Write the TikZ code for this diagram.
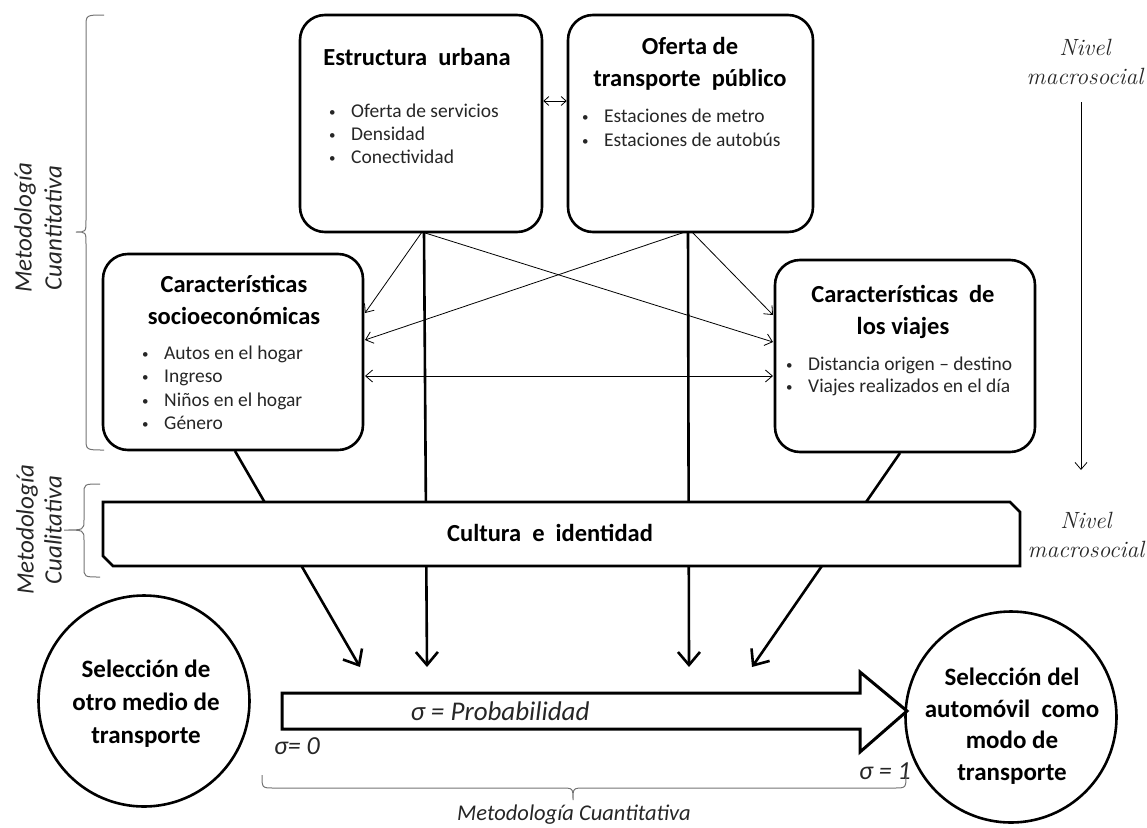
\documentclass[tikz,border=0pt]{standalone}
\usepackage{fontspec}
\newfontfamily\cb{Carlito}
\usetikzlibrary{arrows.meta}
\newcommand{\bul}{\makebox[22pt][l]{\raisebox{1pt}{\fontsize{13}{13}\selectfont •}}}
\begin{document}
\begin{tikzpicture}[x=1pt,y=-1pt,
  box/.style={draw, line width=2.6pt, rounded corners=25pt, fill=white, inner sep=0pt},
  ttl/.style={font=\cb\bfseries\fontsize{24.5}{32}\selectfont, align=center, inner sep=0pt},
  ctl/.style={font=\cb\bfseries\fontsize{25}{33}\selectfont, align=center, inner sep=0pt},
  li/.style={font=\cb\fontsize{19.5}{23}\selectfont, anchor=west, inner sep=0pt, text=black!85},
  thin/.style={line width=0.8pt, -{Straight Barb[length=7pt,width=12pt]}},
  thinb/.style={line width=0.8pt, {Straight Barb[length=7pt,width=12pt]}-{Straight Barb[length=7pt,width=12pt]}},
  thick/.style={line width=2.6pt, -{Straight Barb[length=13pt,width=22pt]}},
  brc/.style={draw=black!55, line width=1pt},
  itl/.style={font=\cb\itshape\fontsize{26}{28}\selectfont, inner sep=0pt, text=black!85},
  niv/.style={font=\itshape\fontsize{23.5}{29}\selectfont, align=center, inner sep=0pt, text=black!85}
]
\useasboundingbox (0,0) rectangle (1147,827);

% connector points
\coordinate (euA) at (422,232);
\coordinate (euB) at (424,232);
\coordinate (otA) at (685,232);
\coordinate (otB) at (692,232);
\coordinate (otC) at (688,232);
\coordinate (csR1) at (365,313);
\coordinate (csR2) at (365,340);
\coordinate (csR3) at (365,376);
\coordinate (cvL1) at (773,315);
\coordinate (cvL2) at (773,342);
\coordinate (cvL3) at (773,376);
\coordinate (csB) at (235,451);
\coordinate (cvB) at (900,453);
\coordinate (t1) at (360,667);
\coordinate (t2) at (427,667);
\coordinate (t3) at (689,667);
\coordinate (t4) at (752,667);

% thick arrows (drawn behind the culture box)
\draw[thick] (csB) -- (t1);
\draw[thick] (euB) -- (t2);
\draw[thick] (otC) -- (t3);
\draw[thick] (cvB) -- (t4);

% thin arrows
\draw[thin] (euA) -- (csR1);
\draw[thin] (euA) -- (cvL2);
\draw[thin] (otA) -- (csR2);
\draw[thin] (otB) -- (cvL1);
\draw[thinb] (csR3) -- (cvL3);

% top boxes
\node[box, minimum width=242pt, minimum height=217pt] (eu) at (421,123.5) {};
\node[box, minimum width=245pt, minimum height=217pt] (ot) at (690.5,123.5) {};
\draw[line width=0.8pt, {Straight Barb[length=5pt,width=9pt]}-{Straight Barb[length=5pt,width=9pt]}] (eu.east |- 0,101) -- (ot.west |- 0,101);

\node[ttl] (euT) at (417,57) {Estructura\ \ urbana};
\foreach \t [count=\i] in {Oferta de servicios, Densidad, Conectividad}
  \node[li, name=euL\i] at (329,113+23*\i-23) {\strut\bul\t};

\node[ttl] (otT) at (690,64) {Oferta de\\transporte\ \ público};
\foreach \t [count=\i] in {Estaciones de metro, Estaciones de autobús}
  \node[li, name=otL\i] at (582,118+24*\i-24) {\strut\bul\t};

% middle boxes
\node[box, minimum width=260pt, minimum height=196pt] (cs) at (233,352) {};
\node[ttl] (csT) at (234,300) {Características\\socioeconómicas};
\foreach \t [count=\i] in {Autos en el hogar, Ingreso, Niños en el hogar, Género}
  \node[li, name=csL\i] at (142,355+23.3*\i-23.3) {\strut\bul\t};

\node[box, minimum width=260pt, minimum height=192pt] (cv) at (905,356) {};
\node[ttl] (cvT) at (903,312) {Características\ \ de\\los viajes};
\foreach \t [count=\i] in {Distancia origen – destino, Viajes realizados en el día}
  \node[li, name=cvL\i] at (786,366+22*\i-22) {\strut\bul\t};

% culture box
\draw[line width=2.6pt, fill=white] (103,502) -- (1010,502) -- (1020,512) -- (1020,566) -- (113,566) -- (103,556) -- cycle;
\node[ttl] (cul) at (550,533) {Cultura\ \ e\ \ identidad};

% circles
\node[draw, circle, line width=2.6pt, minimum size=211pt, inner sep=0pt] (cL) at (144,701) {};
\node[ctl] (cLT) at (146,704) {Selección de\\otro medio de\\transporte};
\node[draw, circle, line width=2.6pt, minimum size=211pt, inner sep=0pt] (cR) at (1011,717) {};
\node[ctl, font=\cb\bfseries\fontsize{25}{31.5}\selectfont] (cRT) at (1012,726) {Selección del\\automóvil\ \ como\\modo de\\transporte};

% big hollow arrow
\draw[line width=3pt, fill=white] (282,693) -- (860,693) -- (860,672) -- (907,711) -- (860,752) -- (860,729) -- (282,729) -- cycle;
\node[itl, font=\cb\itshape\fontsize{27}{28}\selectfont] (prob) at (500,711) {σ = Probabilidad};
\node[itl] (s0) at (297,746) {σ= 0};
\node[itl] (s1) at (885,771) {σ = 1};

% bottom brace
\draw[brc] (262,775) .. controls (262,788) .. (274,788) -- (561,788) .. controls (573,788) .. (573,800) .. controls (573,788) .. (585,788) -- (894,788) .. controls (906,788) .. (906,775);
\node[itl, font=\cb\itshape\fontsize{22.5}{26}\selectfont] (mcB) at (574,815) {Metodología Cuantitativa};

% left braces
\draw[brc] (104,15) .. controls (86,15) .. (86,27) -- (86,220) .. controls (86,232) .. (76,232) .. controls (86,232) .. (86,244) -- (86,438) .. controls (86,450) .. (104,450);
\node[itl, rotate=90, align=center, font=\cb\itshape\fontsize{25}{30}\selectfont] (mc1) at (38,228) {Metodología\\Cuantitativa};
\draw[brc] (100,484) .. controls (84,484) .. (84,494) -- (84,520) .. controls (84,530) .. (64,530) .. controls (84,530) .. (84,540) -- (84,567) .. controls (84,577) .. (100,577);
\node[itl, rotate=90, align=center, font=\cb\itshape\fontsize{25}{28}\selectfont] (mc2) at (39,530) {Metodología\\Cualitativa};

% right side
\node[niv] (n1) at (1085,62) {Nivel\\macrosocial};
\coordinate (nA) at (1081,102);
\coordinate (nB) at (1081,470);
\draw[thin] (nA) -- (nB);
\node[niv] (n2) at (1086,535) {Nivel\\macrosocial};
\end{tikzpicture}
\end{document}
